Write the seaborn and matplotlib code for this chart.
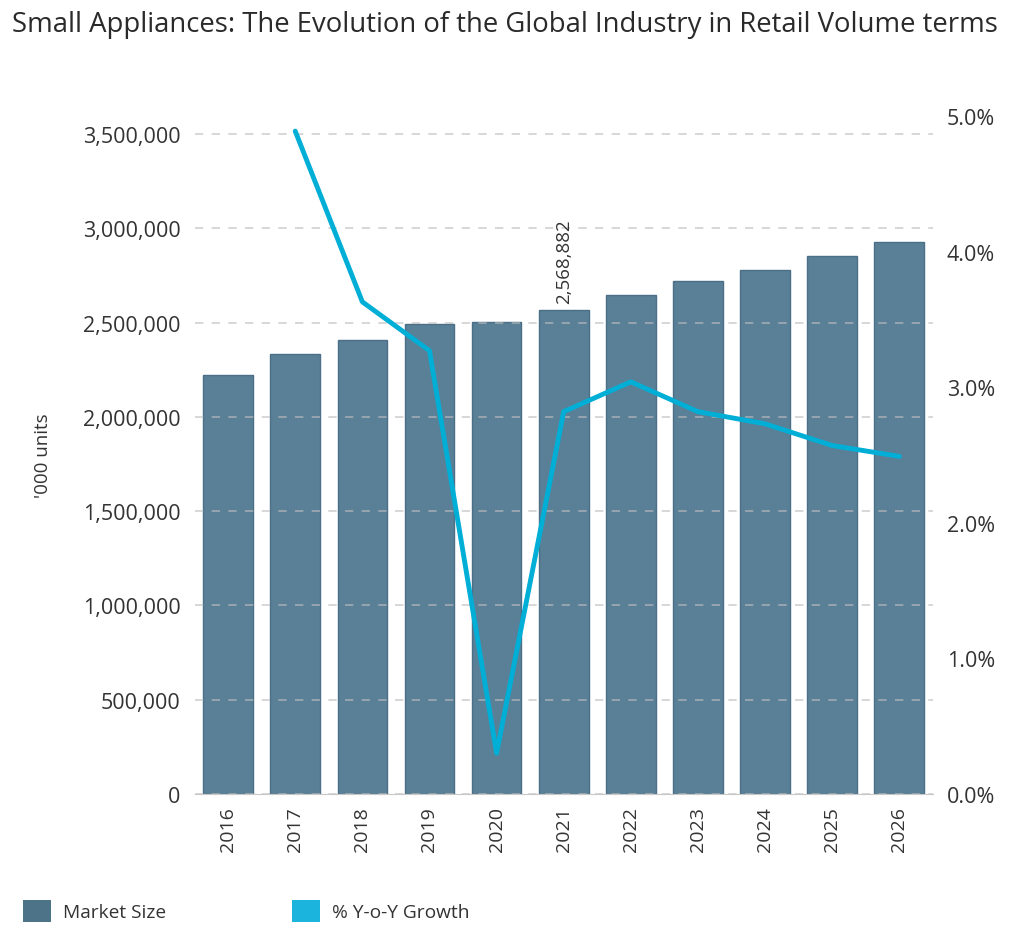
import matplotlib
matplotlib.use('Agg')
import numpy as np
import pandas as pd
import seaborn as sns
import matplotlib.pyplot as plt
import matplotlib.ticker as tkr
from matplotlib.patches import Patch

# ------------------ DATA ------------------ #
years = ['2016', '2017', '2018', '2019', '2020', '2021', '2022', '2023', '2024', '2025', '2026']
market_size = [2221000, 2333000, 2407000, 2492000, 2503000, 2568882, 2646000, 2720000, 2778000, 2853000, 2927000]
yoy_growth = [np.nan, 4.89, 3.63, 3.27, 0.30, 2.82, 3.04, 2.82, 2.73, 2.57, 2.49]
left_ticks = [0, 500000, 1000000, 1500000, 2000000, 2500000, 3000000, 3500000]
right_ticks = [0.0, 1.0, 2.0, 3.0, 4.0, 5.0]
labelled_year = '2021'

BAR_COLOR = '#5a8097'
BAR_EDGE = '#4a6f86'
LINE_COLOR = '#00aed6'
TEXT_COLOR = '#333333'

df = pd.DataFrame({'year': years, 'market': market_size, 'growth': yoy_growth})
df['pos'] = range(len(df))

sns.set_style('white')
plt.rcParams['font.family'] = ['Open Sans', 'DejaVu Sans']

fig = plt.figure(figsize=(10.24, 9.53), dpi=100)
ax = fig.add_axes([0.190, 0.166, 0.721, 0.711])

# -------- BARS --------- #
sns.barplot(data=df, x='year', y='market', ax=ax, color=BAR_COLOR, width=0.74,
            saturation=1, edgecolor=BAR_EDGE, linewidth=1)
ax.set_xlim(-0.5, len(years) - 0.5)
ax.set_ylim(0, 3595000)
ax.set_yticks(left_ticks)
ax.yaxis.set_major_formatter(tkr.FuncFormatter(lambda y, p: f'{y:,.0f}'))
ax.set_xlabel('')
ax.set_ylabel("'000 units", fontsize=13.5, color=TEXT_COLOR, labelpad=22)
ax.tick_params(axis='y', length=0, pad=10, labelsize=15.5, labelcolor=TEXT_COLOR)
ax.tick_params(axis='x', which='major', length=0, pad=9, labelsize=14,
               labelcolor=TEXT_COLOR, labelrotation=90)
ax.set_xticks(np.arange(-0.5, len(years)), minor=True)
ax.tick_params(axis='x', which='minor', length=6, width=1, color='#c8c8c8')
ax.set_axisbelow(False)
ax.grid(axis='y', linestyle=(0, (5, 5)), color='#bdbdbd', linewidth=1.2, alpha=0.7)
for side in ['left', 'right', 'top']:
    ax.spines[side].set_visible(False)
ax.spines['bottom'].set_color('#c8c8c8')

# annotate 2021 bar
row = df[df['year'] == labelled_year].iloc[0]
ax.annotate(f"{row['market']:,.0f}", xy=(row['pos'], row['market']), xytext=(0, 5),
            textcoords='offset points', rotation=90, ha='center', va='bottom',
            fontsize=13.5, color=TEXT_COLOR)

# -------- GROWTH LINE --------- #
ax2 = ax.twinx()
sns.lineplot(data=df, x='pos', y='growth', ax=ax2, color=LINE_COLOR, linewidth=3.5)
ax2.set_ylim(0, 5.0)
ax2.set_yticks(right_ticks)
ax2.yaxis.set_major_formatter(tkr.FuncFormatter(lambda y, p: f'{y:.1f}%'))
ax2.set_ylabel('')
ax2.tick_params(axis='y', length=0, pad=10, labelsize=15.5, labelcolor=TEXT_COLOR)
ax2.grid(False)
for side in ['left', 'right', 'top', 'bottom']:
    ax2.spines[side].set_visible(False)
ax2.set_xlim(-0.5, len(years) - 0.5)

fig.suptitle('Small Appliances: The Evolution of the Global Industry in Retail Volume terms',
             x=0.012, y=0.988, ha='left', fontsize=19.8, color='#2a2a2a')

handles = [Patch(facecolor='#4d7389', edgecolor='none', label='Market Size'),
           Patch(facecolor='#1ab4dc', edgecolor='none', label='% Y-o-Y Growth')]
fig.legend(handles=handles, loc='center left', bbox_to_anchor=(0.006, 0.043), ncol=2,
           frameon=False, fontsize=13.8, handlelength=1.45, handleheight=1.45,
           handletextpad=0.6, columnspacing=6.6, labelcolor=TEXT_COLOR)

fig.savefig('out.png', dpi=100)
